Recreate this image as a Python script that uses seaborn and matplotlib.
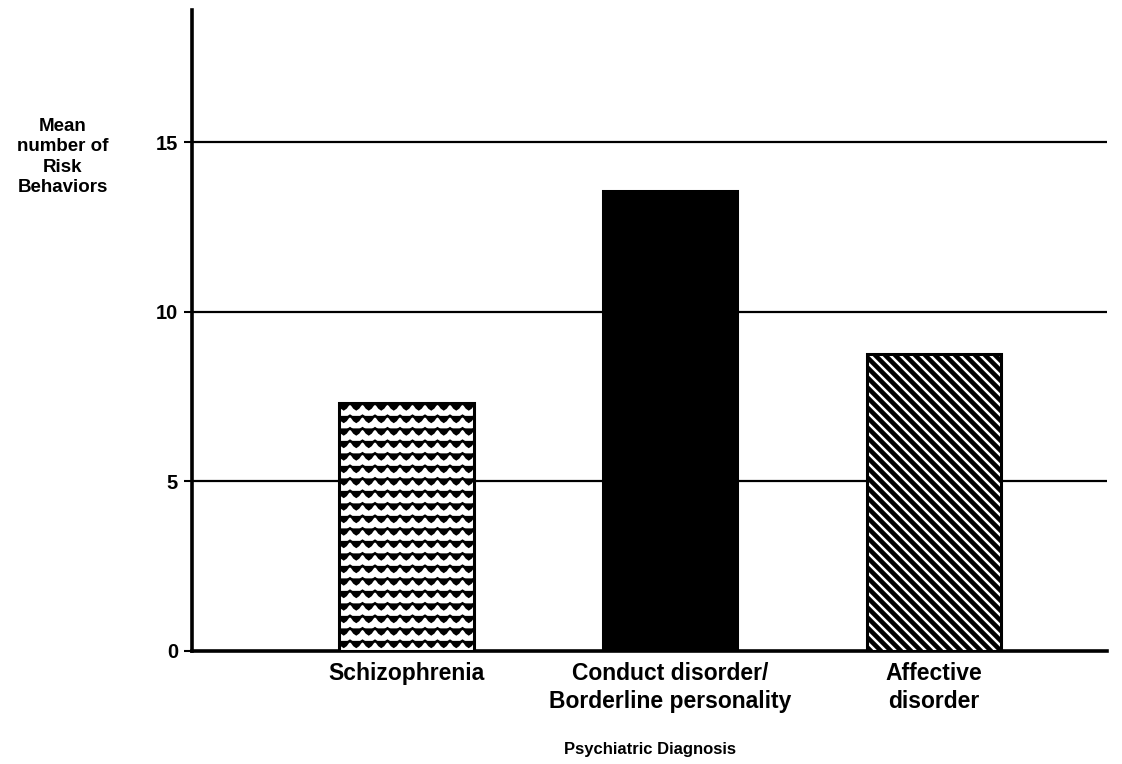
import warnings
warnings.filterwarnings("ignore")
import numpy as np
import pandas as pd
import matplotlib
matplotlib.use("Agg")
import matplotlib.pyplot as plt
import matplotlib.hatch as mhatch
from matplotlib.path import Path
import seaborn as sns

# ---- data ----
categories = ["Schizophrenia", "Conduct disorder/\nBorderline personality", "Affective\ndisorder"]
mean_risk = [7.3, 13.55, 8.75]
y_ticks = [0, 5, 10, 15]
y_label = "Mean\nnumber of\nRisk\nBehaviors"
x_label = "Psychiatric Diagnosis"


# ---- custom hatches: 'z' = wavy rows, 'y' = dense diagonal ----
class WaveHatch(mhatch.HatchPatternBase):
    def __init__(self, hatch, density):
        n = hatch.count('z')
        self.rows = 8 * n
        self.periods = 8
        self.pts = self.periods * 6 + 1
        self.num_lines = self.rows
        self.num_vertices = self.rows * self.pts

    def set_vertices_and_codes(self, vertices, codes):
        xs = np.linspace(0, 1, self.pts)
        amp = 0.23 / max(self.rows, 1)
        for r in range(self.rows):
            y0 = (r + 0.5) / self.rows
            ys = y0 + amp * np.cos(2 * np.pi * self.periods * xs)
            sl = slice(r * self.pts, (r + 1) * self.pts)
            vertices[sl, 0] = xs
            vertices[sl, 1] = ys
            codes[r * self.pts] = Path.MOVETO
            codes[r * self.pts + 1:(r + 1) * self.pts] = Path.LINETO


class DiagHatch(mhatch.HatchPatternBase):
    def __init__(self, hatch, density):
        n = hatch.count('y')
        self.k = 10 * n
        self.num_lines = 2 * self.k + 1 if n else 0
        self.num_vertices = 2 * self.num_lines

    def set_vertices_and_codes(self, vertices, codes):
        cs = np.arange(self.num_lines) / self.k
        vertices[0::2, 0] = cs - 1
        vertices[0::2, 1] = 1
        vertices[1::2, 0] = cs
        vertices[1::2, 1] = 0
        codes[0::2] = Path.MOVETO
        codes[1::2] = Path.LINETO


mhatch._hatch_types.append(WaveHatch)
mhatch._hatch_types.append(DiagHatch)

sns.set_theme(style="white")
plt.rcParams['font.family'] = ['Liberation Sans', 'DejaVu Sans']
plt.rcParams['font.weight'] = 'bold'
plt.rcParams['hatch.linewidth'] = 2.0

df = pd.DataFrame({"diagnosis": categories, "mean": mean_risk})
palette = {categories[0]: "white", categories[1]: "black", categories[2]: "white"}
hatches = ["z", "", "y"]
hatch_lw = [1.9, 0, 3.3]

fig = plt.figure(figsize=(11.22, 7.64), dpi=100)
ax = fig.add_axes([0.171, 0.148, 0.816, 0.839])

sns.barplot(data=df, x="diagnosis", y="mean", hue="diagnosis", palette=palette,
            width=0.51, edgecolor="black", linewidth=2.2, legend=False, ax=ax,
            saturation=1, zorder=3)

for patch, h, lw in zip(ax.patches, hatches, hatch_lw):
    patch.set_hatch(h)
    patch.set_edgecolor("black")
    if hasattr(patch, "set_hatch_linewidth") and lw:
        patch.set_hatch_linewidth(lw)

ax.set_ylim(0, 18.9)
ax.set_xlim(-0.814, 2.658)
ax.set_yticks(y_ticks)
ax.set_yticklabels([str(t) for t in y_ticks], fontsize=14.5, fontweight="bold")
ax.tick_params(axis="y", length=6, width=1.5, color="black", pad=4, left=True,
               labelcolor="black")
ax.tick_params(axis="x", length=0, pad=8, labelsize=16.5, labelcolor="black")
for lbl in ax.get_xticklabels():
    lbl.set_fontweight("bold")
    lbl.set_linespacing(1.25)

for y in y_ticks[1:]:
    ax.axhline(y, color="black", lw=1.6, zorder=1)

for s in ["top", "right"]:
    ax.spines[s].set_visible(False)
for s in ["left", "bottom"]:
    ax.spines[s].set_linewidth(2.6)
    ax.spines[s].set_color("black")

ax.set_ylabel("")
ax.set_xlabel(x_label, fontsize=12, fontweight="bold", color="black")
ax.xaxis.set_label_coords(0.5, -0.154)
ax.xaxis.label.set_va("center")

fig.text(63 / 1122, 1 - 118 / 764, y_label, ha="center", va="top", fontsize=13.5,
         fontweight="bold", linespacing=1.25, color="black")

fig.savefig("out.png", dpi=100)
